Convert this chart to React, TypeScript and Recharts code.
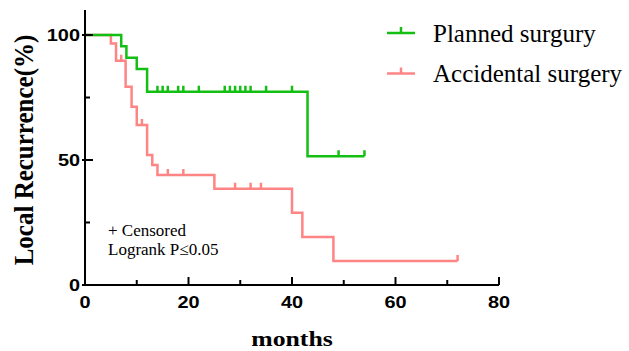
import React from 'react';
import { ComposedChart, Line, XAxis, YAxis, Legend, Customized } from 'recharts';

// Kaplan–Meier style data (time in months, survival %, censored flag)
const plannedTimes = [0, 7, 8, 10, 12, 14, 15, 16, 18, 19, 22, 27, 28, 29, 30, 31, 32, 35, 40, 43, 49, 54];
const plannedSurvival = [100, 95.5, 90.9, 86.4, 77.3, 77.3, 77.3, 77.3, 77.3, 77.3, 77.3, 77.3, 77.3, 77.3, 77.3, 77.3, 77.3, 77.3, 77.3, 51.5, 51.5, 51.5];
const plannedCensored = [0, 0, 0, 0, 0, 1, 1, 1, 1, 1, 1, 1, 1, 1, 1, 1, 1, 1, 1, 0, 1, 1];

const accidentalTimes = [0, 5, 6, 7, 7.85, 9, 10, 11, 12, 13, 14, 16, 19, 25, 29, 32, 34, 40, 42, 48, 72];
const accidentalSurvival = [100, 96.6, 89.7, 89.7, 79.3, 71.3, 64, 64, 52, 48, 44, 44, 44, 38.5, 38.5, 38.5, 38.5, 28.9, 19.2, 9.6, 9.6];
const accidentalCensored = [0, 0, 0, 1, 0, 0, 0, 1, 0, 0, 0, 1, 1, 0, 1, 1, 1, 0, 0, 0, 1];

const xTicks = [0, 10, 20, 30, 40, 50, 60, 70, 80];
const xLabelTicks = [0, 20, 40, 60, 80];
const yTicks = [0, 25, 50, 75, 100];
const yLabelTicks = [0, 50, 100];

const seriesNames = ['Planned surgury', 'Accidental surgery'];
const GREEN = '#13bf13';
const PINK = '#ff8585';
const seriesColors = [GREEN, PINK];

const xTitle = 'months';
const yTitle = 'Local Recurrence(%)';
const noteLines = ['+ Censored', 'Logrank P\u22640.05'];

const build = (times: number[], surv: number[], cens: number[]) =>
  times.map((t, i) => ({ t, s: surv[i], c: cens[i] }));

const plannedData = build(plannedTimes, plannedSurvival, plannedCensored);
const accidentalData = build(accidentalTimes, accidentalSurvival, accidentalCensored);

const SANS = '"Liberation Sans", Arial, sans-serif';
const SERIF = '"Liberation Serif", "Times New Roman", serif';

const XTick = (props: any) => {
  const { x, y, payload } = props;
  const v = payload.value;
  const major = xLabelTicks.includes(v);
  return (
    <g>
      <line x1={x} x2={x} y1={y} y2={y - (major ? 8 : 5)} stroke="#000" strokeWidth={2} />
      {major && (
        <text
          transform={`translate(${x},${y + 23}) scale(1.17,1)`}
          textAnchor="middle"
          fontFamily={SANS}
          fontWeight="bold"
          fontSize={17}
          fill="#000"
        >
          {v}
        </text>
      )}
    </g>
  );
};

const YTick = (props: any) => {
  const { x, y, payload } = props;
  const v = payload.value;
  const major = yLabelTicks.includes(v);
  return (
    <g>
      {major ? (
        <line x1={x - 3} x2={x + 8} y1={y} y2={y} stroke="#000" strokeWidth={2} />
      ) : (
        <line x1={x} x2={x + 5} y1={y} y2={y} stroke="#000" strokeWidth={2} />
      )}
      {major && (
        <text
          transform={`translate(${x - 5},${y + 6}) scale(1.17,1)`}
          textAnchor="end"
          fontFamily={SANS}
          fontWeight="bold"
          fontSize={17}
          fill="#000"
        >
          {v}
        </text>
      )}
    </g>
  );
};

const censorDot = (color: string) => (p: any) => {
  if (p.payload && p.payload.c) {
    return (
      <line
        key={`c-${p.index}`}
        x1={p.cx}
        x2={p.cx}
        y1={p.cy}
        y2={p.cy - 6}
        stroke={color}
        strokeWidth={2.5}
      />
    );
  }
  return <g key={`n-${p.index}`} />;
};

const LegendContent = () => (
  <svg width={254} height={100} style={{ display: 'block' }}>
    {seriesNames.map((name, i) => {
      const ly = i === 0 ? 33 : 73.5;
      return (
        <g key={name}>
          <line x1={12} x2={40} y1={ly} y2={ly} stroke={seriesColors[i]} strokeWidth={2.5} />
          <line x1={26} x2={26} y1={ly} y2={ly - 6} stroke={seriesColors[i]} strokeWidth={2.5} />
          <text x={58} y={ly + 8.5} fontFamily={SERIF} fontSize={25} fill="#000">
            {name}
          </text>
        </g>
      );
    })}
  </svg>
);

const Annotations = () => (
  <g>
    <text
      transform="translate(292,346) scale(1.17,1)"
      textAnchor="middle"
      fontFamily={SERIF}
      fontWeight="bold"
      fontSize={22}
      fill="#000"
    >
      {xTitle}
    </text>
    <text
      transform="translate(33,150) scale(1.12,1) rotate(-90)"
      textAnchor="middle"
      fontFamily={SERIF}
      fontWeight="bold"
      fontSize={25}
      fill="#000"
    >
      {yTitle}
    </text>
    {noteLines.map((l, i) => (
      <text key={l} x={108} y={236 + i * 19} fontFamily={SERIF} fontSize={17} fill="#000">
        {l}
      </text>
    ))}
  </g>
);

export default function App() {
  return (
    <div style={{ position: 'absolute', left: 0, top: 0, width: 629, height: 351, background: '#fff' }}>
      <ComposedChart width={629} height={351} margin={{ top: 10, right: 130, left: 0, bottom: 0 }}>
        <XAxis
          type="number"
          dataKey="t"
          domain={[0, 80]}
          ticks={xTicks}
          interval={0}
          tick={<XTick />}
          tickLine={false}
          tickSize={0}
          tickMargin={0}
          axisLine={{ stroke: '#000', strokeWidth: 2 }}
          height={66}
          allowDuplicatedCategory={false}
        />
        <YAxis
          type="number"
          domain={[0, 110]}
          ticks={yTicks}
          interval={0}
          tick={<YTick />}
          tickLine={false}
          tickSize={0}
          tickMargin={0}
          axisLine={{ stroke: '#000', strokeWidth: 2 }}
          width={85}
        />
        <Line
          data={accidentalData}
          dataKey="s"
          name={seriesNames[1]}
          type="stepAfter"
          stroke={PINK}
          strokeWidth={2.5}
          dot={censorDot(PINK)}
          activeDot={false}
          isAnimationActive={false}
        />
        <Line
          data={plannedData}
          dataKey="s"
          name={seriesNames[0]}
          type="stepAfter"
          stroke={GREEN}
          strokeWidth={2.5}
          dot={censorDot(GREEN)}
          activeDot={false}
          isAnimationActive={false}
        />
        <Customized component={Annotations} />
        <Legend
          layout="vertical"
          align="center"
          verticalAlign="middle"
          content={<LegendContent />}
          wrapperStyle={{ left: 375, top: 0, width: 254, height: 100 }}
        />
      </ComposedChart>
    </div>
  );
}
